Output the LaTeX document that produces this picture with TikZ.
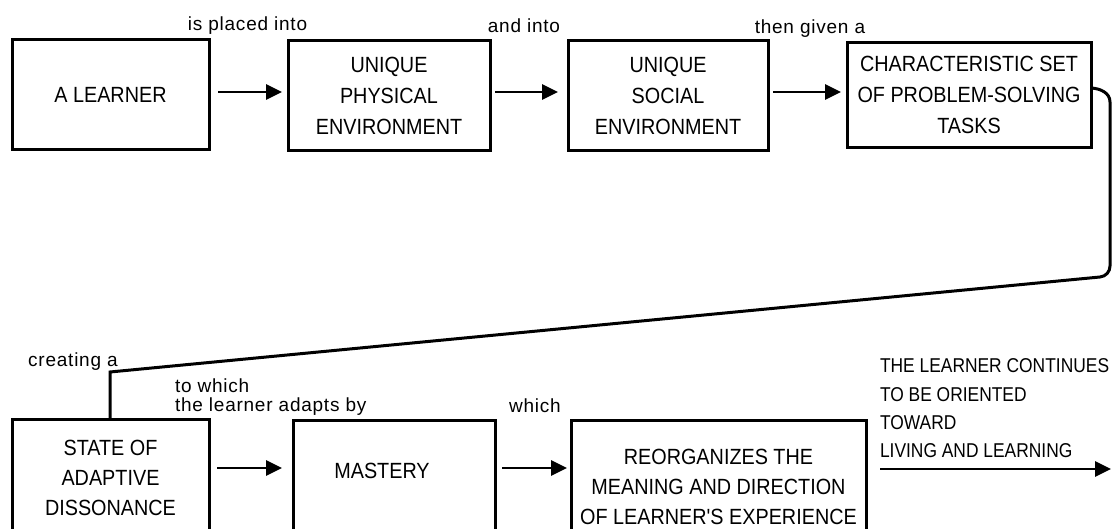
\documentclass[tikz,border=0pt]{standalone}
\usepackage{fontspec}
\setmainfont{Liberation Sans}
\newfontfamily\boxfont{Liberation Sans}[FakeStretch=0.9]
\newfontfamily\narrowfont{Liberation Sans}[FakeStretch=0.87]
\newfontfamily\notefont{Liberation Sans}[LetterSpace=4]
\usetikzlibrary{arrows.meta}
\begin{document}
\begin{tikzpicture}[x=1pt,y=-1pt,
  every node/.style={inner sep=0pt, outer sep=0pt},
  box/.style={draw, line width=3pt, minimum height=110pt, align=center,
    font=\boxfont\fontsize{22}{31}\selectfont},
  lowbox/.style={draw, line width=3pt, anchor=north, minimum height=170pt},
  boxtext/.style={align=center, font=\boxfont\fontsize{22}{30}\selectfont},
  note/.style={anchor=base, font=\notefont\fontsize{19}{19}\selectfont},
  arr/.style={line width=2.7pt, -{Triangle[length=16pt,width=15pt]}},
  conn/.style={line width=3pt, line join=miter}
]
\useasboundingbox (0,0) rectangle (1112,529);
\begin{scope}
\clip (0,0) rectangle (1112,529);

% upper row of boxes
\node[box, minimum width=197pt] (b1) at (110.5,95) {A LEARNER};
\node[box, minimum width=202pt] (b2) at (389,95.5) {UNIQUE\\PHYSICAL\\ENVIRONMENT};
\node[box, minimum width=200pt] (b3) at (668,96) {UNIQUE\\SOCIAL\\ENVIRONMENT};
\node[box, minimum width=244pt, minimum height=105pt] (b4) at (969,95)
  {CHARACTERISTIC SET\\OF PROBLEM-SOLVING\\TASKS};

\coordinate (r1) at (0,92);
\draw[arr, shorten <=9pt, shorten >=6pt] (b1.east |- r1) -- (b2.west |- r1);
\draw[arr, shorten <=5pt, shorten >=10pt] (b2.east |- r1) -- (b3.west |- r1);
\draw[arr, shorten <=5pt, shorten >=6pt] (b3.east |- r1) -- (b4.west |- r1);

\node[note] (l1) at (247.5,31) {is placed into};
\node[note] (l2) at (524,33) {and into};
\node[note] (l3) at (810,34) {then given a};

% lower row of boxes (open at the bottom edge)
\node[lowbox, minimum width=197pt] (b5) at (110.5,420) {};
\node[lowbox, minimum width=202pt] (b6) at (394,421) {};
\node[lowbox, minimum width=295pt] (b7) at (718.5,421) {};
\node[boxtext] (t5) at (110.5,478) {STATE OF\\ADAPTIVE\\DISSONANCE};
\node[boxtext] (t6) at (382,471) {MASTERY};
\node[boxtext] (t7) at (718.5,487) {REORGANIZES THE\\MEANING AND DIRECTION\\OF LEARNER'S EXPERIENCE};

\coordinate (r2) at (0,468);
\draw[arr, shorten <=8pt, shorten >=11pt] (b5.east |- r2) -- (b6.west |- r2);
\draw[arr, shorten <=7pt, shorten >=4pt] (b6.east |- r2) -- (b7.west |- r2);
\coordinate (out) at (1111,469);
\draw[arr, shorten <=14pt] (b7.east |- out) -- (out);

\node[note] (l4) at (73,367) {creating a};
\node[note, anchor=base west] (l5) at (175,393) {to which};
\node[note, anchor=base west] (l6) at (175,412) {the learner adapts by};
\node[note] (l7) at (535,413) {which};
\node[anchor=west, align=left, font=\narrowfont\fontsize{20}{28.3}\selectfont] (l8)
  at (880,408.5) {THE LEARNER CONTINUES\\TO BE ORIENTED\\TOWARD\\LIVING AND LEARNING};

% return line from the task box down to the dissonance box
\coordinate (kink) at (110,372);
\draw[conn] ([yshift=7pt]b4.east) to[out=-3,in=90] (1110,102) -- (1110,266)
  to[out=-90,in=5.5] (1100,277) -- (kink) -- (b5.north -| kink);
\end{scope}
\end{tikzpicture}
\end{document}
